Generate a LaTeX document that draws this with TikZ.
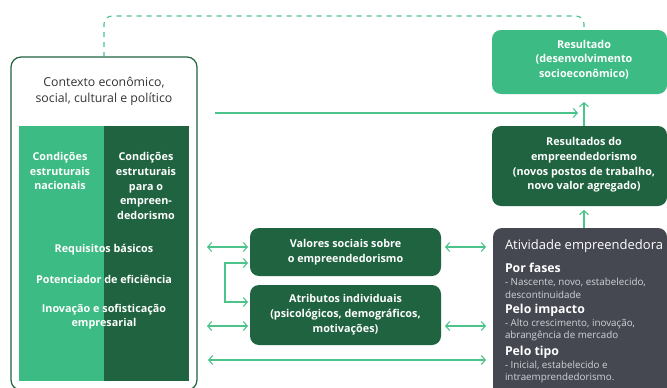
\documentclass[tikz,border=0pt]{standalone}
\usepackage{fontspec}
\setmainfont{Open Sans}
\usepackage{tikz}
\usetikzlibrary{arrows.meta}
\usetikzlibrary{positioning}

\definecolor{verdeclaro}{HTML}{3DBB84}
\definecolor{verdeescuro}{HTML}{1F6340}
\definecolor{cinzaatv}{HTML}{464851}
\definecolor{cinzatexto}{HTML}{D2D3D8}
\definecolor{linha}{HTML}{4CC38A}

\newcommand{\secao}[1]{{\color{white}\bfseries\fontsize{12.3}{13}\selectfont #1}}

\begin{document}
\begin{tikzpicture}[
        x=1pt, y=-1pt,
        every node/.style={inner sep=0pt, outer sep=0pt},
        caixa/.style={rounded corners=9pt, anchor=north west, text=white, align=center,
          font=\bfseries\fontsize{10.8}{15}\selectfont},
        txtbranco/.style={text=white, align=center, font=\bfseries\fontsize{10.8}{14.6}\selectfont},
        coluna/.style={anchor=north west, minimum width=85pt, minimum height=255pt},
        secaoatv/.style={anchor=north west, align=left, text=cinzatexto, font=\fontsize{9.8}{12.8}\selectfont},
        seta/.style={draw=linha, line width=1.1pt, -{Straight Barb[length=4pt,width=9pt]}},
        dupla/.style={seta, {Straight Barb[length=4pt,width=9pt]}-{Straight Barb[length=4pt,width=9pt]}},
        tracejado/.style={draw=linha, line width=1.1pt, dash pattern=on 5pt off 5pt, rounded corners=8pt}
        ]
        \useasboundingbox (0,0) rectangle (667,388);
        % contexto
        \node[draw=verdeescuro, line width=1.2pt, rounded corners=10pt, anchor=north west,
          minimum width=186pt, minimum height=333pt] (ctx) at (11,57) {};
        \node[align=center, text=black!80, font=\fontsize{12.3}{16}\selectfont] (ctxtit) at (104,91)
          {Contexto econômico,\\social, cultural e político};
        \node[coluna, fill=verdeclaro] (colnac) at (19,126) {};
        \node[coluna, fill=verdeescuro, right=0pt of colnac] (colemp) {};
        \node[txtbranco] (nactxt) at (60,171) {Condições\\estruturais\\nacionais};
        \node[txtbranco] (emptxt) at (146,186) {Condições\\estruturais\\para o\\empreen-\\dedorismo};
        \node[txtbranco] (req) at (104,250) {Requisitos básicos};
        \node[txtbranco] (pot) at (104,279) {Potenciador de eficiência};
        \node[txtbranco] (ino) at (104,316.5) {Inovação e sofisticação\\empresarial};

        % caixas do meio
        \node[caixa, fill=verdeescuro, minimum width=191pt, minimum height=48pt] (val) at (250,228)
          {Valores sociais sobre\\o empreendedorismo};
        \node[caixa, fill=verdeescuro, minimum width=191pt, minimum height=60pt] (atr) at (250,285)
          {Atributos individuais\\(psicológicos, demográficos,\\motivações)};

        % coluna da direita
        \node[caixa, fill=verdeclaro, minimum width=175pt, minimum height=64pt] (res) at (492,30) {};
        \node[txtbranco] (restxt) at (584,59.5) {Resultado\\(desenvolvimento\\socioeconômico)};
        \node[caixa, fill=verdeescuro, minimum width=175pt, minimum height=80pt] (out) at (492,126) {};
        \node[txtbranco] (outtxt) at (584,165)
          {Resultados do\\empreendedorismo\\(novos postos de trabalho,\\novo valor agregado)};
        \node[caixa, fill=cinzaatv, minimum width=174pt, minimum height=170pt] (act) at (493,228) {};
        \node[anchor=west, text=white, font=\fontsize{13}{15}\selectfont] (acttit) at (505,246)
          {Atividade empreendedora};
        \node[secaoatv] (fases) at (505,263)
          {\secao{Por fases}\\- Nascente, novo, estabelecido,\\descontinuidade};
        \node[secaoatv] (impacto) at (505,304)
          {\secao{Pelo impacto}\\- Alto crescimento, inovação,\\abrangência de mercado};
        \node[secaoatv] (tipo) at (505,346)
          {\secao{Pelo tipo}\\- Inicial, estabelecido e\\intraemprendedorismo.};

        % setas
        \coordinate (v1) at ([yshift=5pt]val.west);
        \coordinate (a1) at ([yshift=-11pt]atr.west);
        \coordinate (b1) at ([yshift=-47pt]act.west);
        \path (restxt |- res.south) ++(0,19) coordinate (j1);
        \path (restxt |- res.north) ++(0,-3) coordinate (d1);
        \draw[dupla, shorten <=10pt, shorten >=2pt] (ctx.east |- v1) -- (v1);
        \draw[dupla, shorten <=2pt, shorten >=2pt] ([yshift=-11pt]val.west) -- ++(-25,0)
          |- ([yshift=13pt]atr.west);
        \draw[dupla, shorten <=10pt, shorten >=2pt] (ctx.east |- a1) -- (a1);
        \draw[dupla, shorten <=4pt, shorten >=7pt] (v1 -| val.east) -- (v1 -| act.west);
        \draw[dupla, shorten <=4pt, shorten >=7pt] (a1 -| atr.east) -- (a1 -| act.west);
        \draw[dupla, shorten <=11pt, shorten >=7pt] (ctx.east |- b1) -- (b1);
        \draw[seta, shorten <=18pt, shorten >=6pt] (ctx.east |- j1) -- (j1);
        \draw[seta, shorten >=8pt] (outtxt |- out.north) -- (restxt |- res.south);
        \draw[seta, shorten >=4pt] (outtxt |- act.north) -- (outtxt |- out.south);
        \draw[tracejado] (ctx.north) -- ++(0,-41) -| (d1);
\end{tikzpicture}
\end{document}
